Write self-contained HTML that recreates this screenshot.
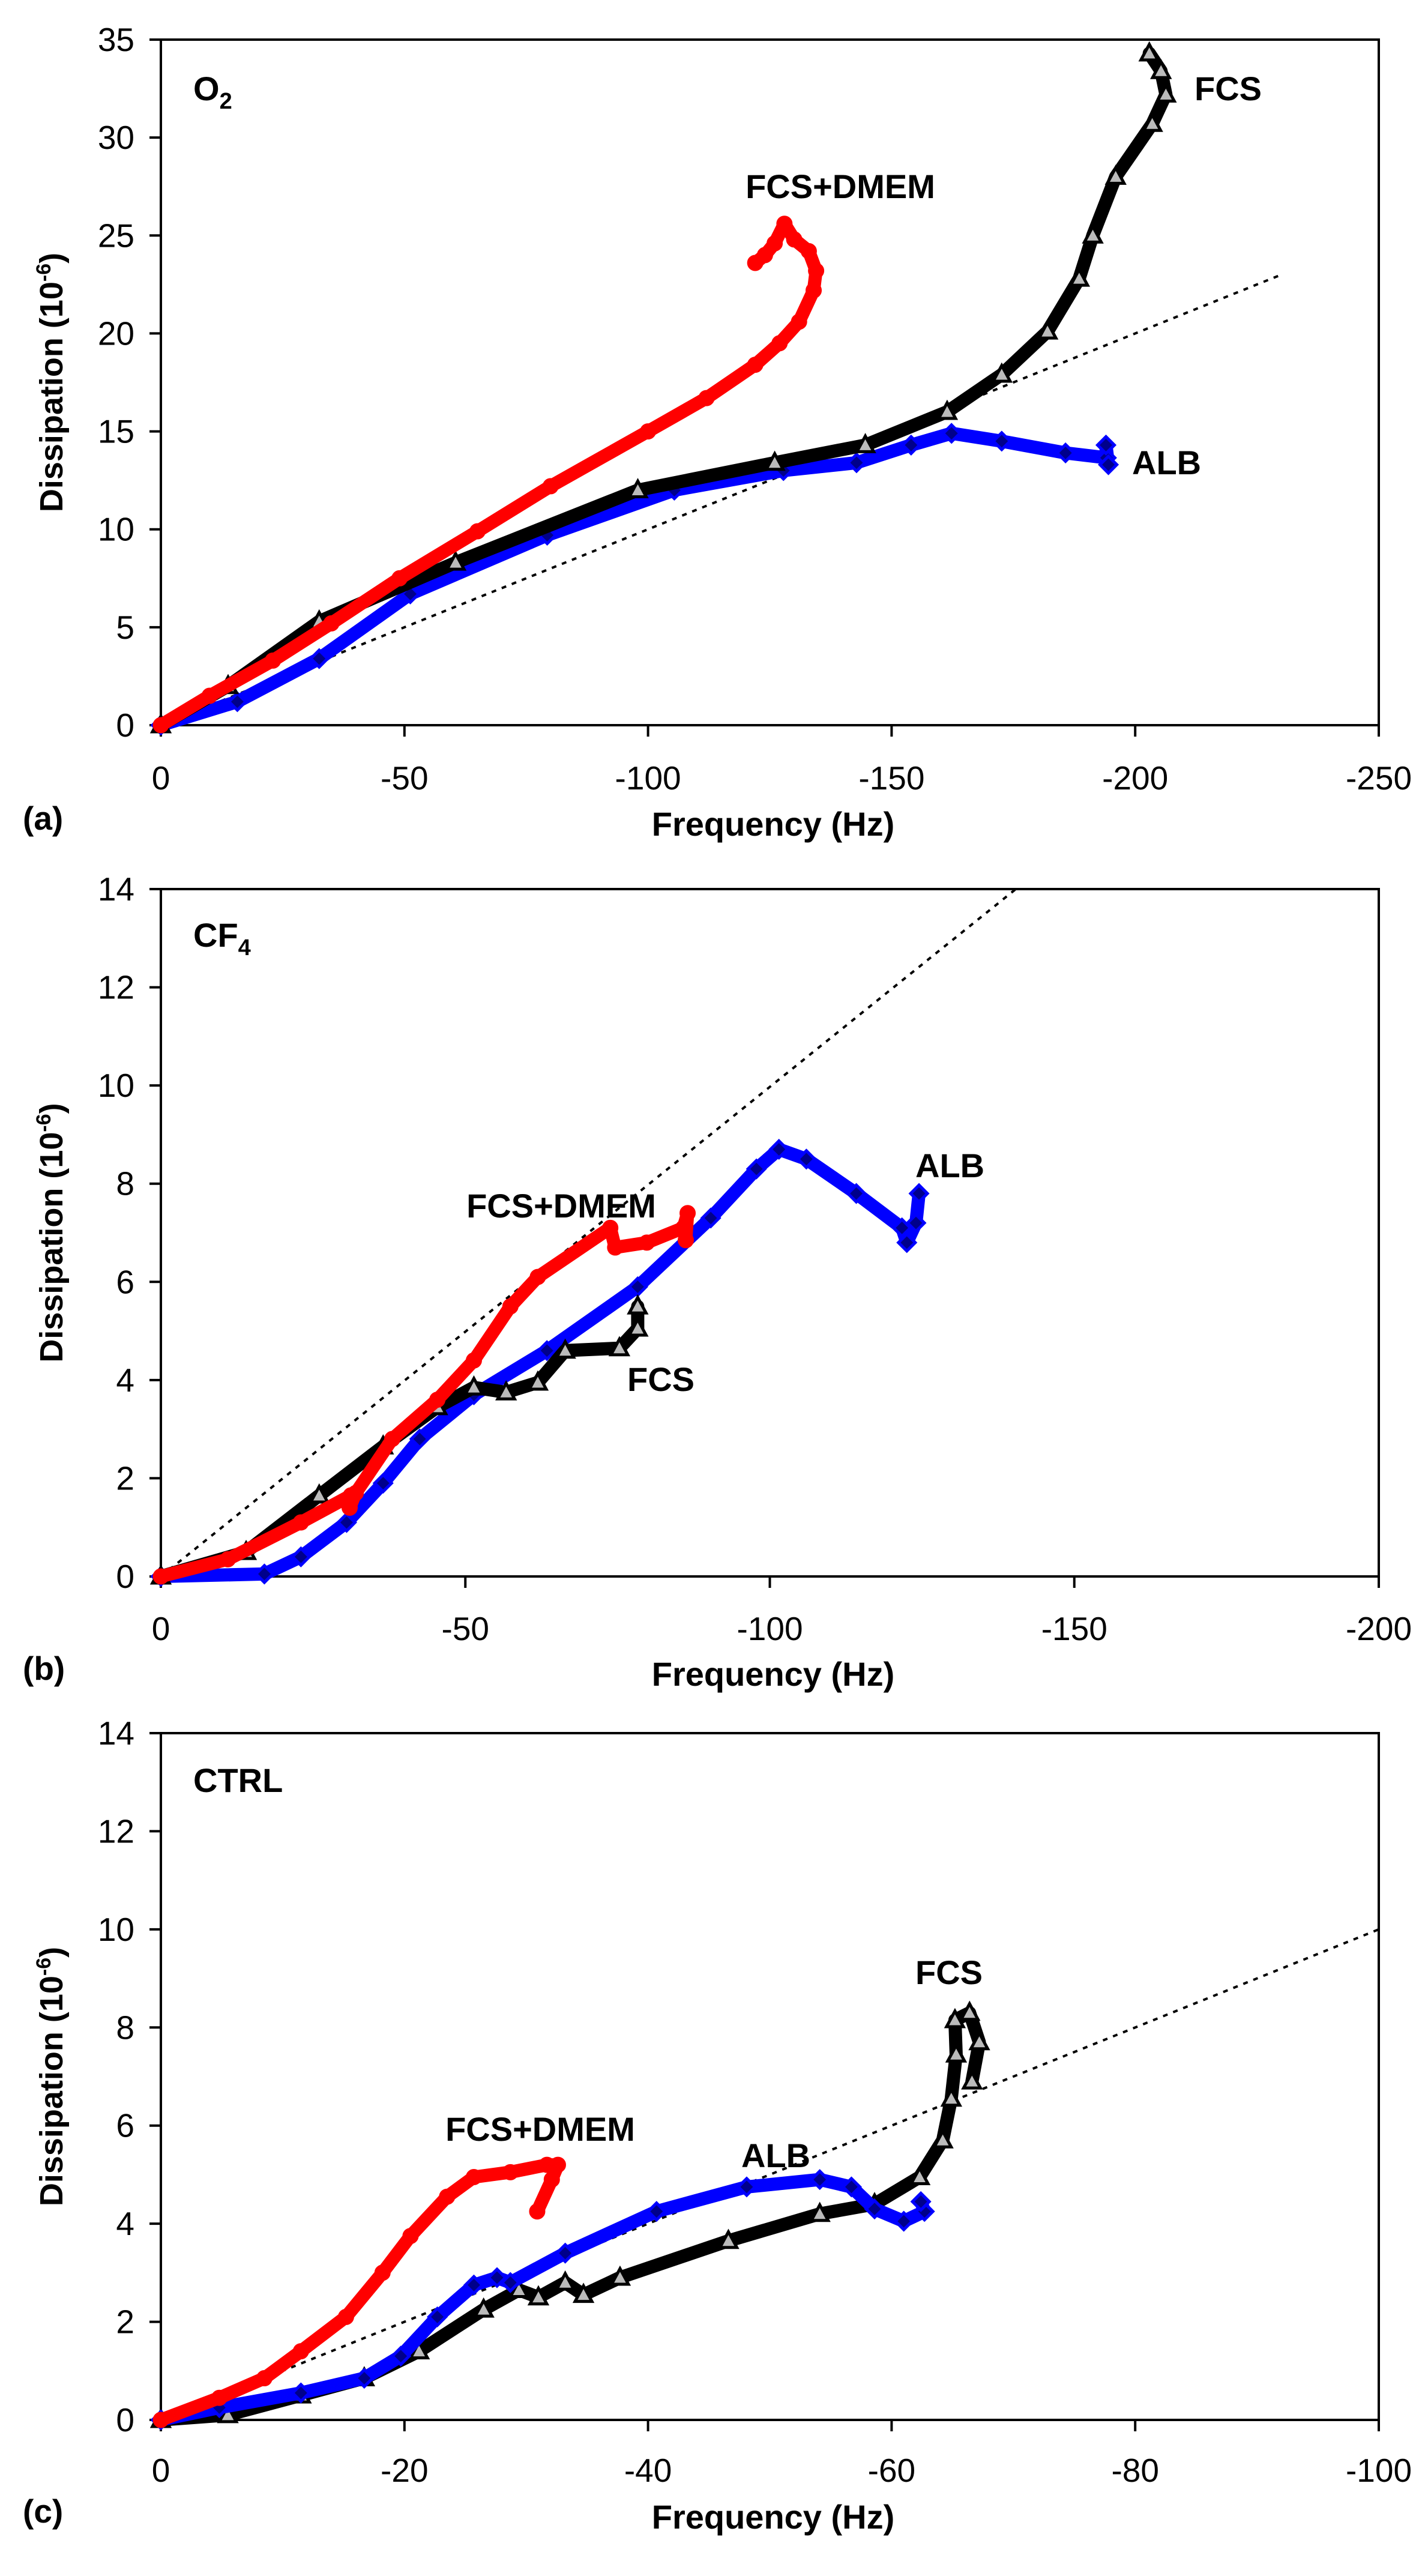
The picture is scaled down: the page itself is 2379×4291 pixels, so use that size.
<!DOCTYPE html>
<html><head><meta charset="utf-8"><style>
html,body{margin:0;padding:0;background:#fff;}
svg{display:block;font-family:"Liberation Sans",Arial,sans-serif;}
</style></head><body>
<svg id="fig" width="2379" height="4291" viewBox="0 0 2379 4291" xmlns="http://www.w3.org/2000/svg"></svg>
<script>
// ---- Panel (a) O2 data ----
const aXTicks = [0,-50,-100,-150,-200,-250];
const aYTicks = [0,5,10,15,20,25,30,35];
const aRedX = [0,-10,-23,-35,-49,-65,-80,-100,-112,-122,-127,-131,-134,-134.5,-133,-130,-128,-126,-124,-122];
const aRedY = [0,1.5,3.3,5.2,7.5,9.9,12.2,15.0,16.7,18.4,19.5,20.6,22.2,23.2,24.2,24.8,25.6,24.6,24.0,23.6];
const aBlkX = [0,-13.8,-32.5,-60.5,-97.9,-126,-144.6,-161.4,-172.6,-182,-188.5,-191.3,-196,-203.5,-206.3,-205.3,-202.9];
const aBlkY = [0,2.0,5.3,8.3,12.0,13.4,14.3,16.0,17.9,20.1,22.8,25.0,28.0,30.7,32.2,33.4,34.3];
const aBluX = [0,-15.7,-32.5,-51.2,-79.3,-105.4,-127.8,-142.8,-154,-162.3,-172.6,-185.7,-194.1,-194,-194.5];
const aBluY = [0,1.2,3.4,6.7,9.7,12.0,13.0,13.4,14.3,14.9,14.5,13.9,13.65,14.3,13.3];
const aFitX = [0,-230];
const aFitY = [0,23];
// ---- Panel (b) CF4 data ----
const bXTicks = [0,-50,-100,-150,-200];
const bYTicks = [0,2,4,6,8,10,12,14];
const bRedX = [0,-11,-23,-31.2,-31,-32,-38,-45.4,-51.4,-57.4,-61.9,-73.8,-74.6,-79.8,-85.8,-86.5,-86.2];
const bRedY = [0,0.35,1.1,1.65,1.4,1.7,2.8,3.6,4.4,5.5,6.1,7.1,6.7,6.8,7.1,7.4,6.85];
const bBlkX = [0,-14,-26,-36.5,-45.4,-51.4,-56.7,-61.9,-66.4,-75.3,-78.3,-78.3];
const bBlkY = [0,0.5,1.65,2.65,3.45,3.85,3.75,3.95,4.6,4.65,5.05,5.5];
const bBluX = [0,-17,-23,-30.5,-36.5,-42.5,-51.4,-63.4,-78.3,-90.3,-97.8,-101.5,-106,-114.2,-121.7,-122.5,-124,-124.5];
const bBluY = [0,0.05,0.4,1.1,1.9,2.8,3.7,4.6,5.9,7.3,8.3,8.7,8.5,7.8,7.1,6.8,7.2,7.8];
const bFitX = [0,-140.4];
const bFitY = [0,14];
// ---- Panel (c) CTRL data ----
const cXTicks = [0,-20,-40,-60,-80,-100];
const cYTicks = [0,2,4,6,8,10,12,14];
const cRedX = [0,-4.8,-8.5,-11.5,-15.2,-18.2,-20.5,-23.5,-25.7,-28.7,-31.7,-32.6,-32.1,-30.9];
const cRedY = [0,0.45,0.85,1.4,2.1,3.0,3.75,4.55,4.95,5.05,5.2,5.2,4.9,4.25];
const cBluX = [0,-4.8,-11.5,-16.7,-19.7,-22.7,-25.7,-27.6,-28.7,-33.2,-40.7,-48.1,-54.1,-56.7,-58.6,-61,-62.7,-62.4];
const cBluY = [0,0.25,0.55,0.85,1.3,2.1,2.75,2.9,2.8,3.4,4.25,4.75,4.9,4.75,4.3,4.05,4.25,4.45];
const cBlkX = [0,-5.5,-11.5,-16.7,-21.2,-26.5,-29.4,-31,-33.2,-34.7,-37.7,-46.6,-54.1,-58.6,-62.3,-64.2,-64.9,-65.3,-65.2,-66.4,-67.2,-66.6];
const cBlkY = [0,0.1,0.5,0.85,1.4,2.25,2.65,2.5,2.8,2.55,2.9,3.65,4.2,4.4,4.95,5.7,6.55,7.45,8.15,8.3,7.7,6.9];
const cFitX = [0,-100];
const cFitY = [0,10];

const NS = "http://www.w3.org/2000/svg";
const svg = document.getElementById('fig');
function mk(tag, attrs, parent){
  const e = document.createElementNS(NS, tag);
  for (const k in attrs) e.setAttribute(k, attrs[k]);
  (parent||svg).appendChild(e);
  return e;
}
const L = 268, R = 2297;

function panel(cfg){
  const g = mk('g', {});
  
  
  const xmin = cfg.xTicks[cfg.xTicks.length-1], ymax = cfg.yTicks[cfg.yTicks.length-1];
  const sx = v => L + (v / xmin) * (R - L);
  const sy = v => cfg.bot - (v / ymax) * (cfg.bot - cfg.top);
  const fr = mk('rect', {x:L, y:cfg.top, width:R-L, height:cfg.bot-cfg.top, fill:'none', stroke:'#000', 'stroke-width':4}, g);
  
  
  cfg.yTicks.forEach(t => {
    const y = sy(t);
    const tk = mk('line', {x1:L-19, x2:L, y1:y, y2:y, stroke:'#000', 'stroke-width':4}, g);
    
    
    const tx = mk('text', {x:224, y:y+19, 'font-size':55, 'text-anchor':'end'}, g);
    tx.textContent = t;
    
    
  });
  cfg.xTicks.forEach(t => {
    const x = sx(t);
    const tk = mk('line', {x1:x, x2:x, y1:cfg.bot, y2:cfg.bot+19, stroke:'#000', 'stroke-width':4}, g);
    
    
    const tx = mk('text', {x:x, y:cfg.xlab, 'font-size':55, 'text-anchor':'middle'}, g);
    tx.textContent = t;
    
    
  });
  const cy = (cfg.top + cfg.bot) / 2;
  const yt = mk('text', {x:0, y:0, 'font-size':54, 'font-weight':'bold', 'text-anchor':'middle', transform:`translate(104 ${cy}) rotate(-90)`}, g);
  yt.innerHTML = 'Dissipation (10<tspan dy="-20" font-size="34">-6</tspan><tspan dy="20">)</tspan>';
  
  
  const xt = mk('text', {x:1288, y:cfg.xtitle, 'font-size':56, 'font-weight':'bold', 'text-anchor':'middle'}, g);
  xt.textContent = 'Frequency (Hz)';
  
  
  const pl = mk('text', {x:38, y:cfg.xtitle-10, 'font-size':55, 'font-weight':'bold'}, g);
  pl.textContent = cfg.letter;
  
  
  const gl = mk('text', {x:322, y:cfg.gasY, 'font-size':56, 'font-weight':'bold'}, g);
  gl.innerHTML = cfg.gas;
  
  
  const fit = mk('line', {x1:sx(cfg.fitX[0]), y1:sy(cfg.fitY[0]), x2:sx(cfg.fitX[1]), y2:sy(cfg.fitY[1]), stroke:'#000', 'stroke-width':4, 'stroke-dasharray':'8 10'}, g);
  
  
  cfg.series.forEach(s => {
    const sg = mk('g', {}, g);
    
    
    const pts = s.x.map((v,i) => sx(v).toFixed(1)+','+sy(s.y[i]).toFixed(1)).join(' ');
    const band = mk('polyline', {points:pts, fill:'none', stroke:s.color, 'stroke-width':22, 'stroke-linejoin':'round', 'stroke-linecap':'round'}, sg);
    
    
    s.x.forEach((v,i) => {
      const px = sx(v), py = sy(s.y[i]);
      let m;
      if (s.marker === 'circle') m = mk('circle', {cx:px, cy:py, r:11, fill:'none', stroke:s.color, 'stroke-width':5}, sg);
      else if (s.marker === 'tri') m = mk('polygon', {points:`${px},${py-15} ${px-14},${py+11} ${px+14},${py+11}`, fill:'#bbb', stroke:'#000', 'stroke-width':5}, sg);
      else m = mk('polygon', {points:`${px},${py-14} ${px+14},${py} ${px},${py+14} ${px-14},${py}`, fill:'#00008b', stroke:'#0000ff', 'stroke-width':5}, sg);
      
      
    });
  });
  cfg.labels.forEach(lb => {
    const t = mk('text', {x:lb[1], y:lb[2], 'font-size':56, 'font-weight':'bold', 'text-anchor':lb[3]}, g);
    t.textContent = lb[0];
    
    
  });
}

panel({name:'panel-a-o2', letter:'(a)', gas:'O<tspan dy="14" font-size="38">2</tspan>', gasY:167,
  top:66, bot:1208, xlab:1315, xtitle:1392, xTicks:aXTicks, yTicks:aYTicks, fitX:aFitX, fitY:aFitY,
  series:[
    {name:'alb-series', x:aBluX, y:aBluY, color:'#0000ff', marker:'diamond'},
    {name:'fcs-series', x:aBlkX, y:aBlkY, color:'#000', marker:'tri'},
    {name:'fcs-dmem-series', x:aRedX, y:aRedY, color:'#ff0000', marker:'circle'}],
  labels:[['FCS+DMEM',1400,330,'middle'],['FCS',1990,167,'start'],['ALB',1886,790,'start']]});

panel({name:'panel-b-cf4', letter:'(b)', gas:'CF<tspan dy="14" font-size="38">4</tspan>', gasY:1577,
  top:1481, bot:2626, xlab:2732, xtitle:2808, xTicks:bXTicks, yTicks:bYTicks, fitX:bFitX, fitY:bFitY,
  series:[
    {name:'alb-series', x:bBluX, y:bBluY, color:'#0000ff', marker:'diamond'},
    {name:'fcs-series', x:bBlkX, y:bBlkY, color:'#000', marker:'tri'},
    {name:'fcs-dmem-series', x:bRedX, y:bRedY, color:'#ff0000', marker:'circle'}],
  labels:[['ALB',1525,1961,'start'],['FCS+DMEM',935,2028,'middle'],['FCS',1045,2317,'start']]});

panel({name:'panel-c-ctrl', letter:'(c)', gas:'CTRL', gasY:2985,
  top:2887, bot:4031, xlab:4134, xtitle:4212, xTicks:cXTicks, yTicks:cYTicks, fitX:cFitX, fitY:cFitY,
  series:[
    {name:'fcs-series', x:cBlkX, y:cBlkY, color:'#000', marker:'tri'},
    {name:'alb-series', x:cBluX, y:cBluY, color:'#0000ff', marker:'diamond'},
    {name:'fcs-dmem-series', x:cRedX, y:cRedY, color:'#ff0000', marker:'circle'}],
  labels:[['FCS',1525,3305,'start'],['FCS+DMEM',900,3566,'middle'],['ALB',1235,3610,'start']]});
</script>
</body></html>
